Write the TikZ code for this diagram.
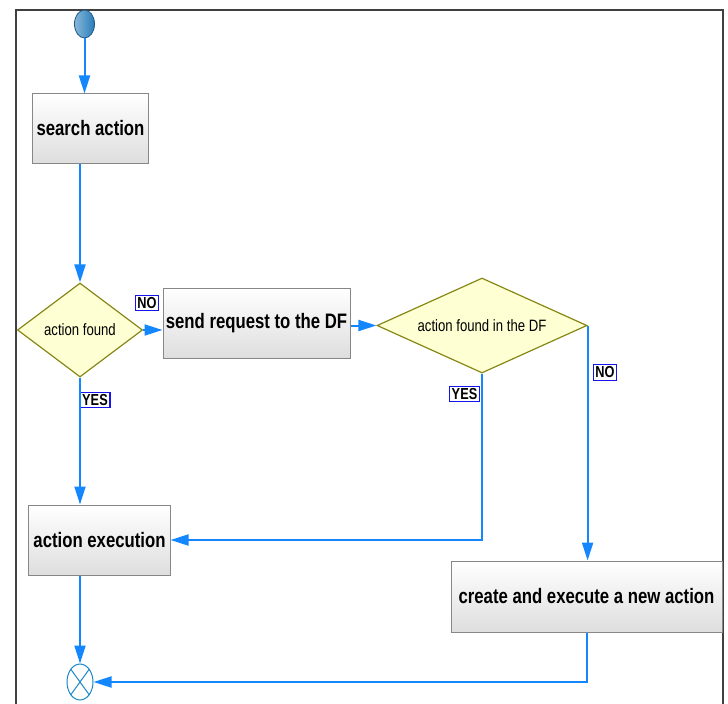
\documentclass[tikz,border=0pt]{standalone}
\usepackage{fontspec}
\newfontfamily\flowfont{Liberation Sans}[FakeStretch=0.8]
\usetikzlibrary{shapes.geometric,arrows.meta,positioning}

\definecolor{flowblue}{RGB}{20,135,255}
\definecolor{boxline}{RGB}{135,135,135}
\definecolor{boxfill}{RGB}{222,222,222}
\definecolor{decline}{RGB}{135,135,20}
\definecolor{decfill}{RGB}{255,255,212}
\definecolor{tagline}{RGB}{20,20,235}
\definecolor{startfill}{RGB}{40,125,185}
\definecolor{endline}{RGB}{25,135,200}

\tikzset{
  activity/.style={draw=boxline, line width=1bp, top color=white, bottom color=boxfill,
    inner sep=2pt, font=\flowfont\bfseries\fontsize{21}{24}\selectfont},
  decision/.style={diamond, draw=decline, line width=1.2bp, fill=decfill, inner sep=0pt,
    font=\flowfont\fontsize{16.5}{19}\selectfont},
  flow/.style={draw=flowblue, line width=2bp, -{Triangle[length=18bp,width=11bp]}},
  tag/.style={draw=tagline, line width=1.3bp, fill=white, inner sep=2.2pt,
    font=\flowfont\bfseries\fontsize{16}{18}\selectfont},
  frame/.style={draw=black!75, line width=2bp}
}

\begin{document}
\begin{tikzpicture}[x=1bp,y=-1bp]
  \useasboundingbox (0,0) rectangle (728,704);
  \draw[frame] (16,704) -- (16,10) -- (723,10) -- (723,704);

  % start and end
  \node (start) [ellipse, draw=startfill!70!black, line width=0.8bp, left color=startfill!55!white,
    right color=startfill, minimum width=20bp, minimum height=28bp, inner sep=0pt] at (84.5,24) {};
  \node (stop) [ellipse, draw=endline, line width=1bp, fill=white, minimum width=26bp,
    minimum height=36bp, inner sep=0pt,
    path picture={\draw[endline, line width=1bp]
      (path picture bounding box.north west) -- (path picture bounding box.south east)
      (path picture bounding box.north east) -- (path picture bounding box.south west);}]
    at (80,682) {};

  % activities
  \node (search) [activity, minimum width=115bp, minimum height=69bp] at (90.5,128.5) {search action};
  \node (request) [activity, minimum width=187bp, minimum height=70bp] at (256.5,323) {send request to the DF};
  \node (execute) [activity, minimum width=141bp, minimum height=70bp] at (99.5,540) {action execution};
  \node (create) [activity, minimum width=271bp, minimum height=71bp] at (586.5,596.5) {create and execute a new action};

  % decisions
  \node (found) [decision, aspect=1.33, minimum width=125bp, minimum height=94bp] at (80,330) {action found};
  \node (founddf) [decision, aspect=2.2, minimum width=210bp, minimum height=95bp] at (482,325.5) {action found in the DF};

  % guards
  \node (no1) [tag] at (147,303) {NO};
  \node (yes1) [tag] at (95,400) {YES};
  \node (yes2) [tag] at (464.5,394) {YES};
  \node (no2) [tag] at (605,372.5) {NO};

  \draw[flow] (start) -- (start |- search.north);
  \draw[flow] (found.north |- search.south) -- (found.north);
  \draw[flow] (found.east) -- (found.east -| request.west);
  \draw[flow] (request.east |- founddf.west) -- (founddf.west);
  \draw[flow] (found.south) -- (found.south |- execute.north);
  \draw[flow] (founddf.south) |- (execute.east);
  \draw[flow] (founddf.east) -- (founddf.east |- create.north);
  \draw[flow] (execute.south -| stop) -- (stop.north);
  \draw[flow] (create.south) |- (stop.east);
\end{tikzpicture}
\end{document}
